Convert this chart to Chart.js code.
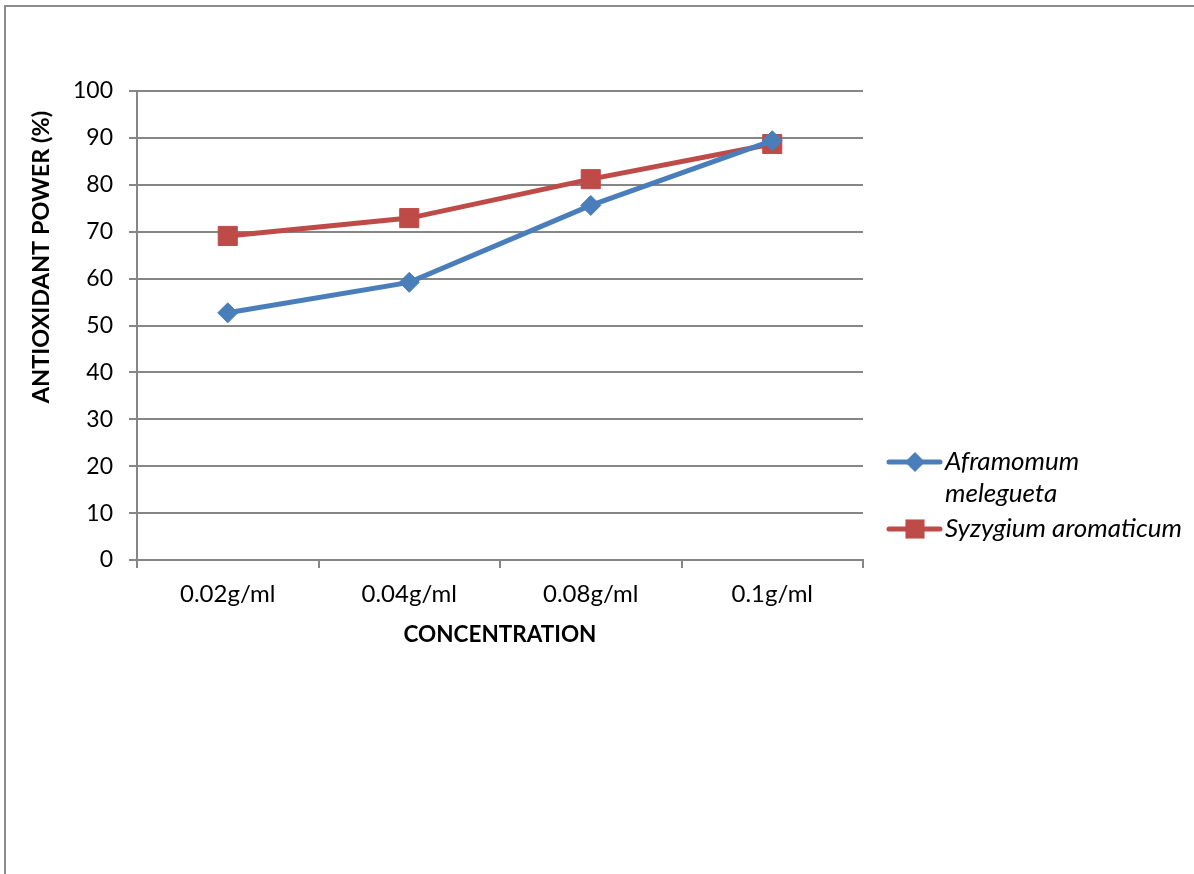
<!DOCTYPE html>
<html>
<head>
<meta charset="utf-8">
<script src="https://cdn.jsdelivr.net/npm/chart.js@4/dist/chart.umd.min.js"></script>
<style>
  html, body { margin: 0; padding: 0; background: #ffffff; }
  #wrap { width: 1194px; height: 874px; }
</style>
</head>
<body>
<div id="wrap"><canvas id="chart" width="1194" height="874"></canvas></div>
<script>
// Concentrations tested
const concentrations = ['0.02g/ml', '0.04g/ml', '0.08g/ml', '0.1g/ml'];

// Antioxidant power (%) per extract
const aframomumValues = [52.7, 59.2, 75.6, 89.4];
const syzygiumValues = [69.1, 72.9, 81.2, 88.7];

// Series names, split where the legend wraps them
const aframomumName = ['Aframomum', 'melegueta'];
const syzygiumName = ['Syzygium aromaticum'];

// Y axis range and step
const yMin = 0;
const yMax = 100;
const yStep = 10;

const axisTitleY = 'ANTIOXIDANT POWER (%)';
const axisTitleX = 'CONCENTRATION';

const BLUE = '#4A7EBB';
const RED = '#BE4B48';
const GRID = '#868686';
const FONT = 'Lato, "Open Sans", "DejaVu Sans", sans-serif';

function markerPath(ctx, style, x, y, r) {
  ctx.beginPath();
  if (style === 'rectRot') {
    ctx.moveTo(x - r, y);
    ctx.lineTo(x, y - r);
    ctx.lineTo(x + r, y);
    ctx.lineTo(x, y + r);
  } else {
    const s = Math.SQRT1_2 * r;
    ctx.rect(x - s, y - s, 2 * s, 2 * s);
  }
  ctx.closePath();
}

// Frame, axis titles and the right-hand legend
const decorations = {
  id: 'decorations',
  beforeDraw(chart) {
    const ctx = chart.ctx;
    ctx.save();
    ctx.fillStyle = '#ffffff';
    ctx.fillRect(0, 0, chart.width, chart.height);
    ctx.strokeStyle = '#8c8c8c';
    ctx.lineWidth = 2;
    ctx.strokeRect(5, 6, 1400, 1000);
    ctx.restore();
  },
  afterDraw(chart) {
    const ctx = chart.ctx;
    const area = chart.chartArea;
    ctx.save();
    ctx.fillStyle = '#000000';
    ctx.textAlign = 'center';
    ctx.textBaseline = 'middle';

    ctx.font = 'bold 22.5px ' + FONT;
    ctx.fillText(axisTitleX, (area.left + area.right) / 2, 635);

    ctx.save();
    ctx.translate(41, 257);
    ctx.rotate(-Math.PI / 2);
    ctx.font = 'bold 23.5px ' + FONT;
    ctx.fillText(axisTitleY, 0, 0);
    ctx.restore();

    // legend
    const rows = [462, 529];
    const lineHeight = 32;
    chart.data.datasets.forEach((ds, i) => {
      const y = rows[i];
      ctx.strokeStyle = ds.borderColor;
      ctx.lineWidth = 5;
      ctx.lineCap = 'round';
      ctx.beginPath();
      ctx.moveTo(889, y);
      ctx.lineTo(940, y);
      ctx.stroke();
      markerPath(ctx, ds.pointStyle, 915, y, ds.pointRadius);
      ctx.fillStyle = ds.pointBackgroundColor;
      ctx.fill();
      ctx.fillStyle = '#000000';
      ctx.font = 'italic 26px ' + FONT;
      ctx.textAlign = 'left';
      const lines = Array.isArray(ds.label) ? ds.label : [ds.label];
      lines.forEach((t, k) => ctx.fillText(t, 945, y + k * lineHeight));
    });
    ctx.restore();
  }
};

new Chart(document.getElementById('chart'), {
  type: 'line',
  data: {
    labels: concentrations,
    datasets: [
      {
        label: aframomumName,
        data: aframomumValues,
        borderColor: BLUE,
        backgroundColor: BLUE,
        pointBackgroundColor: BLUE,
        pointBorderColor: BLUE,
        borderWidth: 5,
        pointStyle: 'rectRot',
        pointRadius: 10,
        pointBorderWidth: 1,
        tension: 0
      },
      {
        label: syzygiumName,
        data: syzygiumValues,
        borderColor: RED,
        backgroundColor: RED,
        pointBackgroundColor: RED,
        pointBorderColor: RED,
        borderWidth: 5,
        pointStyle: 'rect',
        pointRadius: 13.5,
        pointBorderWidth: 1,
        tension: 0
      }
    ]
  },
  options: {
    responsive: false,
    animation: false,
    devicePixelRatio: 1,
    layout: { padding: { left: 5, top: 91, right: 331, bottom: 214 } },
    plugins: {
      legend: { display: false },
      tooltip: { enabled: false }
    },
    scales: {
      x: {
        offset: true,
        grid: {
          display: true,
          offset: true,
          drawOnChartArea: false,
          drawTicks: true,
          tickLength: 8,
          color: GRID,
          lineWidth: 2
        },
        border: { display: true, color: GRID, width: 2 },
        ticks: {
          color: '#000000',
          font: { family: FONT, size: 24 },
          padding: 12,
          maxRotation: 0
        },
        afterFit(scale) { scale.height = 100; }
      },
      y: {
        min: yMin,
        max: yMax,
        grid: {
          color: GRID,
          lineWidth: 2,
          tickLength: 8
        },
        border: { display: true, color: GRID, width: 2 },
        ticks: {
          stepSize: yStep,
          color: '#000000',
          font: { family: FONT, size: 23 },
          padding: 16
        },
        afterFit(scale) { scale.width = 132; }
      }
    }
  },
  plugins: [decorations]
});
</script>
</body>
</html>
